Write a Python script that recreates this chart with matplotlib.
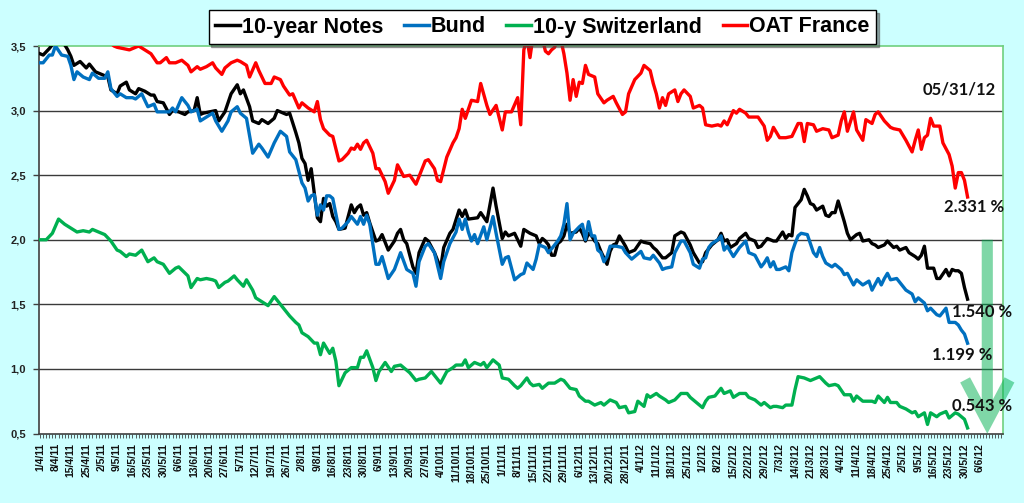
import matplotlib
matplotlib.use("Agg")
import matplotlib.pyplot as plt
from matplotlib.path import Path
from matplotlib.patches import PathPatch

# ---------------- data ----------------
tick_labels = ["1/4/11", "8/4/11", "15/4/11", "25/4/11", "2/5/11", "9/5/11", "16/5/11", "23/5/11",
               "30/5/11", "6/6/11", "13/6/11", "20/6/11", "27/6/11", "5/7/11", "12/7/11", "19/7/11",
               "26/7/11", "2/8/11", "9/8/11", "16/8/11", "23/8/11", "30/8/11", "6/9/11", "13/9/11",
               "20/9/11", "27/9/11", "4/10/11", "11/10/11", "18/10/11", "25/10/11", "1/11/11",
               "8/11/11", "15/11/11", "22/11/11", "29/11/11", "6/12/11", "13/12/11", "20/12/11",
               "28/12/11", "4/1/12", "11/1/12", "18/1/12", "25/1/12", "1/2/12", "8/2/12", "15/2/12",
               "22/2/12", "29/2/12", "7/3/12", "14/3/12", "21/3/12", "28/3/12", "4/4/12", "11/4/12",
               "18/4/12", "25/4/12", "2/5/12", "9/5/12", "16/5/12", "23/5/12", "30/5/12", "6/6/12"]
label_step = 5          # one label every 5 business days
n_days = 313            # business-day categories on the axis

notes_day = [0, 1, 3, 4, 6, 8, 9, 10, 11, 13, 15, 16, 18, 20, 22, 23, 25, 26, 28, 29, 31, 32, 34, 36, 37,
             38, 40, 42, 43, 45, 47, 48, 50, 51, 52, 53, 55, 57, 58, 60, 62, 64, 65, 66, 68, 69, 71, 72,
             74, 76, 77, 78, 80, 81, 83, 84, 85, 86, 87, 88, 89, 90, 91, 92, 93, 94, 95, 96, 97, 99, 101,
             102, 103, 104, 105, 106, 107, 109, 110, 111, 113, 115, 116, 117, 118, 119, 121, 122, 123,
             125, 126, 128, 130, 131, 133, 134, 136, 137, 138, 139, 142, 143, 145, 147, 148, 150, 151,
             152, 154, 156, 157, 159, 161, 162, 163, 164, 165, 166, 167, 168, 169, 170, 171, 172, 174,
             175, 176, 177, 178, 179, 180, 181, 182, 184, 185, 186, 187, 188, 190, 191, 193, 195, 196,
             198, 199, 200, 202, 203, 205, 206, 208, 209, 211, 212, 214, 215, 216, 218, 220, 221, 222,
             223, 224, 226, 227, 229, 230, 232, 233, 234, 236, 237, 238, 239, 241, 242, 243, 244, 245,
             246, 247, 248, 249, 250, 251, 252, 254, 255, 256, 257, 258, 259, 260, 261, 262, 263, 265,
             266, 267, 269, 270, 271, 272, 274, 275, 277, 278, 279, 281, 282, 284, 285, 286, 287, 288,
             290, 291, 292, 294, 295, 296, 297, 298, 299, 300, 301]
notes_yield = [3.44, 3.43, 3.48, 3.51, 3.52, 3.51, 3.47, 3.42, 3.35, 3.38, 3.33, 3.36, 3.30, 3.28, 3.26,
               3.16, 3.13, 3.19, 3.22, 3.16, 3.13, 3.17, 3.15, 3.12, 3.12, 3.07, 3.06, 2.97, 3.00, 2.99,
               2.97, 2.99, 3.00, 3.10, 2.97, 2.98, 2.99, 3.00, 2.92, 2.99, 3.13, 3.20, 3.13, 3.16, 3.03,
               2.92, 2.90, 2.93, 2.90, 2.94, 3.00, 2.99, 2.97, 2.98, 2.83, 2.75, 2.63, 2.59, 2.46, 2.55,
               2.36, 2.17, 2.14, 2.32, 2.26, 2.28, 2.18, 2.14, 2.08, 2.09, 2.27, 2.21, 2.25, 2.27, 2.19,
               2.21, 2.13, 1.99, 2.00, 2.04, 1.92, 1.99, 2.05, 2.08, 2.00, 1.97, 1.79, 1.74, 1.90, 2.01,
               1.99, 1.90, 1.78, 1.94, 2.05, 2.08, 2.23, 2.18, 2.23, 2.16, 2.17, 2.21, 2.14, 2.40, 2.26,
               2.01, 2.06, 2.03, 2.05, 1.95, 2.08, 2.05, 2.03, 1.97, 2.01, 1.99, 1.96, 1.88, 1.88, 1.97,
               1.99, 2.03, 2.12, 2.05, 2.06, 2.09, 2.05, 1.99, 2.05, 2.03, 1.99, 1.97, 1.91, 1.81, 1.91,
               1.96, 1.97, 2.03, 1.95, 1.90, 1.92, 1.99, 1.98, 1.97, 1.94, 1.92, 1.86, 1.86, 1.90, 2.03,
               2.06, 2.05, 1.96, 1.90, 1.82, 1.83, 1.90, 1.96, 2.00, 2.05, 1.99, 2.00, 1.94, 1.97, 2.01,
               2.05, 2.01, 1.99, 1.94, 1.95, 2.01, 2.00, 1.99, 1.99, 2.06, 2.01, 2.04, 2.03, 2.25, 2.28,
               2.31, 2.39, 2.34, 2.28, 2.27, 2.23, 2.26, 2.19, 2.18, 2.21, 2.21, 2.30, 2.22, 2.14, 2.05,
               2.00, 2.04, 2.05, 1.99, 2.00, 1.97, 1.96, 1.94, 1.96, 1.99, 1.94, 1.95, 1.92, 1.94, 1.90,
               1.87, 1.85, 1.88, 1.95, 1.78, 1.78, 1.70, 1.70, 1.77, 1.72, 1.77, 1.76, 1.76, 1.74, 1.63,
               1.54]

bund_day = [0, 1, 3, 4, 5, 7, 9, 10, 11, 12, 14, 16, 17, 19, 21, 22, 23, 25, 26, 28, 30, 31, 33, 35, 37,
            38, 40, 42, 43, 44, 46, 48, 49, 51, 52, 54, 56, 57, 59, 61, 62, 64, 65, 67, 69, 71, 72, 74,
            76, 78, 80, 81, 83, 84, 85, 86, 87, 88, 89, 90, 91, 92, 93, 94, 95, 97, 98, 100, 101, 103,
            104, 105, 106, 107, 109, 110, 111, 113, 115, 117, 119, 121, 122, 123, 125, 126, 128, 130,
            131, 133, 135, 136, 137, 138, 139, 140, 141, 142, 144, 145, 147, 148, 150, 151, 152, 154,
            156, 157, 158, 160, 161, 162, 164, 165, 167, 168, 169, 170, 171, 172, 173, 175, 176, 177,
            178, 179, 180, 181, 182, 183, 184, 185, 187, 189, 190, 192, 193, 195, 196, 198, 199, 201,
            202, 203, 205, 206, 208, 209, 211, 212, 214, 215, 216, 217, 218, 220, 221, 222, 223, 225,
            227, 229, 230, 232, 234, 235, 236, 237, 238, 239, 240, 242, 243, 244, 245, 246, 247, 249,
            250, 251, 252, 253, 254, 255, 257, 258, 260, 261, 262, 264, 265, 267, 269, 270, 272, 273,
            274, 275, 276, 278, 279, 281, 283, 284, 285, 287, 288, 289, 291, 292, 294, 295, 297, 298,
            299, 300, 301]
bund_yield = [3.37, 3.37, 3.43, 3.43, 3.50, 3.43, 3.42, 3.35, 3.24, 3.30, 3.26, 3.24, 3.29, 3.25, 3.25,
              3.30, 3.17, 3.11, 3.13, 3.10, 3.10, 3.09, 3.13, 3.03, 3.05, 2.99, 2.99, 2.99, 3.02, 2.99,
              3.10, 3.04, 2.99, 3.01, 2.92, 2.95, 2.98, 2.92, 2.84, 2.92, 2.99, 3.03, 2.98, 2.94, 2.67,
              2.74, 2.71, 2.64, 2.75, 2.84, 2.80, 2.68, 2.62, 2.53, 2.44, 2.40, 2.30, 2.34, 2.35, 2.19,
              2.27, 2.23, 2.34, 2.34, 2.32, 2.08, 2.09, 2.14, 2.18, 2.12, 2.18, 2.12, 2.19, 2.12, 1.81,
              1.81, 1.87, 1.70, 1.77, 1.90, 1.77, 1.74, 1.64, 1.83, 1.95, 1.97, 1.90, 1.70, 1.83, 1.97,
              2.06, 2.16, 2.08, 2.16, 2.06, 1.99, 2.04, 1.97, 2.10, 2.00, 2.18, 2.05, 1.81, 1.86, 1.87,
              1.69, 1.73, 1.74, 1.82, 1.77, 1.85, 1.96, 1.94, 1.90, 1.96, 1.99, 2.03, 2.12, 2.28, 2.00,
              2.05, 2.10, 2.12, 2.00, 2.14, 2.03, 2.03, 1.92, 1.90, 1.83, 1.87, 1.95, 1.95, 1.94, 1.90,
              1.85, 1.87, 1.91, 1.86, 1.85, 1.88, 1.82, 1.77, 1.78, 1.79, 1.90, 1.99, 1.99, 1.90, 1.81,
              1.78, 1.85, 1.86, 1.94, 1.97, 2.00, 2.03, 1.92, 1.95, 1.87, 1.94, 1.99, 1.90, 1.88, 1.79,
              1.82, 1.86, 1.79, 1.83, 1.77, 1.77, 1.79, 1.76, 1.90, 1.97, 2.03, 2.05, 2.04, 1.97, 1.90,
              1.87, 1.94, 1.87, 1.82, 1.79, 1.81, 1.77, 1.73, 1.74, 1.65, 1.69, 1.65, 1.68, 1.61, 1.70,
              1.65, 1.70, 1.74, 1.69, 1.70, 1.67, 1.61, 1.58, 1.52, 1.55, 1.51, 1.45, 1.47, 1.42, 1.41,
              1.47, 1.36, 1.36, 1.34, 1.30, 1.27, 1.199]

swiss_day = [0, 2, 4, 6, 8, 10, 12, 14, 16, 17, 19, 21, 23, 25, 26, 28, 29, 31, 33, 35, 37, 38, 40, 42,
             44, 45, 48, 49, 51, 52, 54, 56, 57, 58, 60, 61, 63, 64, 66, 67, 69, 70, 72, 74, 76, 79, 81,
             83, 84, 85, 87, 89, 90, 91, 92, 94, 95, 96, 97, 98, 99, 101, 103, 104, 105, 106, 108, 109,
             110, 112, 114, 115, 117, 118, 120, 122, 123, 125, 127, 129, 130, 132, 134, 135, 137, 138,
             139, 141, 143, 144, 145, 147, 149, 150, 152, 154, 155, 156, 158, 159, 160, 162, 163, 165,
             167, 169, 170, 172, 174, 175, 177, 178, 180, 182, 183, 185, 187, 188, 190, 191, 193, 194,
             196, 197, 198, 200, 201, 203, 204, 206, 208, 210, 211, 213, 215, 216, 217, 219, 221, 222,
             224, 225, 227, 229, 230, 232, 234, 235, 237, 238, 239, 241, 242, 244, 245, 246, 248, 249,
             250, 251, 253, 255, 256, 258, 259, 261, 263, 264, 265, 267, 269, 270, 271, 272, 274, 275,
             276, 278, 279, 281, 283, 284, 285, 287, 288, 289, 291, 292, 294, 295, 297, 298, 300, 301]
swiss_yield = [2.00, 2.00, 2.05, 2.16, 2.12, 2.09, 2.06, 2.07, 2.06, 2.08, 2.06, 2.04, 1.99, 1.92, 1.91,
               1.87, 1.89, 1.88, 1.92, 1.83, 1.86, 1.83, 1.81, 1.74, 1.78, 1.79, 1.72, 1.63, 1.70, 1.69,
               1.70, 1.69, 1.68, 1.63, 1.67, 1.68, 1.72, 1.69, 1.64, 1.69, 1.61, 1.55, 1.52, 1.49, 1.56,
               1.47, 1.41, 1.36, 1.34, 1.28, 1.25, 1.20, 1.20, 1.11, 1.20, 1.12, 1.16, 1.06, 0.87, 0.92,
               0.97, 1.01, 1.01, 1.09, 1.09, 1.14, 1.01, 0.91, 0.98, 1.05, 0.98, 1.02, 1.03, 1.01, 0.97,
               0.91, 0.92, 0.93, 0.98, 0.92, 0.89, 0.98, 1.01, 1.03, 1.03, 1.07, 1.01, 1.05, 1.03, 1.05,
               1.01, 1.07, 1.03, 0.93, 0.92, 0.87, 0.85, 0.87, 0.93, 0.89, 0.87, 0.88, 0.85, 0.89, 0.89,
               0.92, 0.91, 0.85, 0.84, 0.79, 0.75, 0.75, 0.72, 0.74, 0.72, 0.76, 0.74, 0.70, 0.71, 0.66,
               0.67, 0.75, 0.71, 0.80, 0.78, 0.81, 0.79, 0.76, 0.74, 0.76, 0.81, 0.81, 0.78, 0.74, 0.70,
               0.75, 0.78, 0.79, 0.85, 0.81, 0.83, 0.78, 0.81, 0.81, 0.78, 0.76, 0.72, 0.74, 0.70, 0.71,
               0.71, 0.70, 0.72, 0.72, 0.84, 0.94, 0.93, 0.92, 0.91, 0.92, 0.94, 0.89, 0.87, 0.88, 0.87,
               0.80, 0.80, 0.75, 0.79, 0.75, 0.75, 0.75, 0.74, 0.79, 0.74, 0.78, 0.74, 0.74, 0.71, 0.69,
               0.66, 0.67, 0.63, 0.66, 0.57, 0.66, 0.63, 0.65, 0.67, 0.62, 0.66, 0.65, 0.61, 0.543]

oat_day = [0, 6, 12, 18, 22, 24, 25, 27, 29, 30, 32, 34, 36, 38, 39, 41, 42, 44, 46, 48, 49, 51, 52, 54,
           56, 57, 59, 60, 62, 64, 65, 67, 68, 70, 71, 73, 75, 76, 78, 79, 81, 82, 84, 85, 87, 89, 90, 91,
           92, 94, 95, 97, 98, 100, 101, 102, 103, 104, 105, 106, 108, 109, 110, 112, 113, 115, 116, 118,
           120, 122, 123, 125, 126, 128, 129, 130, 132, 134, 135, 136, 137, 138, 140, 142, 143, 145, 146,
           148, 150, 151, 153, 155, 156, 157, 158, 159, 160, 161, 163, 164, 165, 166, 167, 168, 169, 170,
           171, 172, 173, 174, 175, 176, 177, 178, 180, 181, 183, 184, 186, 187, 189, 190, 191, 193, 195,
           196, 198, 199, 200, 201, 202, 203, 204, 206, 207, 208, 209, 211, 212, 214, 215, 216, 218, 220,
           221, 222, 223, 225, 226, 227, 229, 230, 232, 233, 235, 236, 237, 238, 240, 242, 244, 245, 246,
           247, 248, 249, 251, 252, 254, 256, 257, 259, 260, 261, 262, 264, 265, 267, 268, 270, 271, 272,
           274, 276, 277, 279, 281, 283, 284, 285, 286, 287, 288, 289, 290, 292, 293, 295, 296, 297, 298,
           299, 300, 301]
oat_yield = [3.62, 3.68, 3.66, 3.60, 3.54, 3.50, 3.49, 3.48, 3.47, 3.48, 3.50, 3.47, 3.44, 3.37, 3.37,
             3.41, 3.37, 3.37, 3.39, 3.35, 3.30, 3.34, 3.32, 3.34, 3.37, 3.33, 3.28, 3.33, 3.37, 3.39,
             3.38, 3.35, 3.26, 3.37, 3.31, 3.21, 3.21, 3.26, 3.24, 3.19, 3.12, 3.13, 3.02, 3.06, 3.02,
             2.99, 3.07, 2.93, 2.86, 2.81, 2.80, 2.61, 2.62, 2.67, 2.71, 2.70, 2.74, 2.70, 2.75, 2.77,
             2.67, 2.55, 2.55, 2.45, 2.36, 2.46, 2.58, 2.49, 2.50, 2.43, 2.49, 2.61, 2.62, 2.55, 2.46,
             2.45, 2.64, 2.75, 2.79, 2.86, 3.01, 2.94, 3.08, 3.07, 3.21, 3.04, 2.97, 3.04, 2.85, 2.99,
             2.99, 3.10, 2.89, 3.47, 3.56, 3.41, 3.58, 3.62, 3.56, 3.46, 3.44, 3.47, 3.49, 3.57, 3.55,
             3.44, 3.29, 3.08, 3.24, 3.11, 3.22, 3.21, 3.35, 3.28, 3.26, 3.13, 3.06, 3.08, 3.11, 3.06,
             2.97, 2.99, 3.13, 3.24, 3.29, 3.35, 3.31, 3.21, 3.13, 3.02, 3.10, 3.04, 3.13, 3.16, 3.07,
             3.13, 3.16, 3.11, 3.02, 3.04, 3.02, 2.89, 2.88, 2.89, 2.88, 2.92, 2.89, 3.00, 2.98, 3.01,
             2.98, 2.95, 2.95, 2.95, 2.88, 2.77, 2.80, 2.87, 2.79, 2.79, 2.80, 2.85, 2.90, 2.90, 2.76,
             2.90, 2.89, 2.84, 2.86, 2.85, 2.79, 2.81, 2.92, 2.99, 2.84, 2.99, 2.85, 2.77, 2.93, 2.90,
             2.97, 2.99, 2.92, 2.87, 2.86, 2.85, 2.77, 2.68, 2.77, 2.85, 2.70, 2.79, 2.81, 2.94, 2.88,
             2.88, 2.75, 2.66, 2.57, 2.40, 2.52, 2.52, 2.46, 2.331]

series_names = ["10-year Notes", "Bund", "10-y Switzerland", "OAT France"]
series_colors = ["#000000", "#0070c0", "#00b050", "#ff0000"]

date_note = "05/31/12"
end_labels = ["2.331 %", "1.540 %", "1.199 %", "0.543 %"]

# ---------------- figure ----------------
W, H = 1024, 503
fig = plt.figure(figsize=(W / 100, H / 100), dpi=100, facecolor="#ccffff")
L, R, T, B = 38.5, 1003, 46, 433.5
ax = fig.add_axes([L / W, 1 - B / H, (R - L) / W, (B - T) / H])
ax.set_facecolor("white")

series = [(notes_day, notes_yield), (bund_day, bund_yield),
          (swiss_day, swiss_yield), (oat_day, oat_yield)]
for (d, y), name, c in zip(series, series_names, series_colors):
    ax.plot(d, y, color=c, lw=2.4, label=name, solid_joinstyle="round", zorder=3)

ax.set_xlim(-0.5, n_days - 0.5)
ax.set_ylim(0.5, 3.5)

# grid
for g in [1.0, 1.5, 2.0, 2.5, 3.0]:
    ax.axhline(g, color="#3a3a3a", lw=1.0, zorder=1)

# spines
for s in ["left", "bottom"]:
    ax.spines[s].set_color("#404040")
    ax.spines[s].set_linewidth(1.2)
for s in ["top", "right"]:
    ax.spines[s].set_color("#6fcf7f")
    ax.spines[s].set_linewidth(1.2)

# y ticks
yt = [0.5, 1.0, 1.5, 2.0, 2.5, 3.0, 3.5]
ax.set_yticks(yt)
ax.set_yticklabels([f"{v:.1f}".replace(".", ",") for v in yt],
                   fontsize=8, fontweight="bold", family="Liberation Sans", color="#222222")
ax.tick_params(axis="y", direction="out", length=4, width=1, color="#404040", pad=5)

# x ticks: one per business day, label every 5th
ax.set_xticks(range(n_days))
xl = [""] * n_days
for i, lab in enumerate(tick_labels):
    xl[i * label_step] = lab
ax.set_xticklabels(xl, rotation=90, fontsize=7.5, fontweight="bold",
                   family="Liberation Sans", color="#111111", ha="center", va="top")
ax.tick_params(axis="x", direction="out", length=3, width=0.6, color="#404040", pad=4)

# annotations
tfont = dict(fontsize=12, fontweight="bold", family="Lato", color="#111111", zorder=6)
ax.text(298.3, 3.16, date_note, ha="center", va="center", **tfont)
ax.text(303.0, 2.256, end_labels[0], ha="center", va="center", **tfont)
ax.text(305.8, 1.437, end_labels[1], ha="center", va="center", **tfont)
ax.text(299.3, 1.104, end_labels[2], ha="center", va="center", **tfont)
ax.text(305.8, 0.716, end_labels[3], ha="center", va="center", **tfont)

# green arrow (single stroked path so overlaps don't darken)
ax_x = 307.4
verts = [(ax_x, 2.0), (ax_x, 0.59), (300.2, 0.915), (ax_x, 0.59), (314.6, 0.915)]
codes = [Path.MOVETO, Path.LINETO, Path.MOVETO, Path.LINETO, Path.LINETO]
arrow = PathPatch(Path(verts, codes), fill=False, edgecolor="#00b050", alpha=0.5,
                  lw=8, capstyle="butt", joinstyle="miter", clip_on=False, zorder=5)
ax.add_patch(arrow)

# legend
leg = ax.legend(loc="center", bbox_to_anchor=(542.5 / W, 1 - 27 / H), bbox_transform=fig.transFigure,
                ncol=4, frameon=True, fancybox=False, shadow=True, handlelength=1.15,
                handletextpad=0.1, columnspacing=0.95, borderpad=0.3,
                prop=dict(family="Liberation Sans", weight="bold", size=15.5))
leg.get_frame().set_edgecolor("black")
leg.get_frame().set_linewidth(1.0)
for ln in leg.get_lines():
    ln.set_linewidth(2.5)

fig.savefig("out.png", dpi=100, facecolor=fig.get_facecolor())
